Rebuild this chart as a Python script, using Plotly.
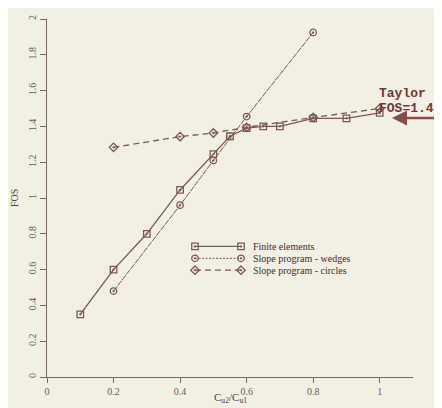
import plotly.graph_objects as go

# ---- data ----
fe_x = [0.1, 0.2, 0.3, 0.4, 0.5, 0.55, 0.6, 0.65, 0.7, 0.8, 0.9, 1.0]
fe_y = [0.35, 0.60, 0.80, 1.045, 1.245, 1.345, 1.39, 1.40, 1.40, 1.445, 1.445, 1.475]

wedge_x = [0.2, 0.4, 0.5, 0.6, 0.8]
wedge_y = [0.48, 0.96, 1.21, 1.455, 1.925]

circ_x = [0.2, 0.4, 0.5, 0.6, 0.8, 1.0]
circ_y = [1.283, 1.343, 1.363, 1.395, 1.45, 1.50]

series_names = ["Finite elements", "Slope program - wedges", "Slope program - circles"]
x_ticks = [0, 0.2, 0.4, 0.6, 0.8, 1]
x_tick_text = ["0", "0.2", "0.4", "0.6", "0.8", "1"]
y_ticks = [0, 0.2, 0.4, 0.6, 0.8, 1, 1.2, 1.4, 1.6, 1.8, 2]
y_tick_text = ["0", "0.2", "0.4", "0.6", "0.8", "1", "1.2", "1.4", "1.6", "1.8", "2"]

BG = "#f1f0e3"
INK = "#7d5752"
AX = "#7a6862"
TXT = "#6a5a55"
SERIF = "Liberation Serif"

styles = [
    dict(symbol="square-open-dot", dash="solid", width=1.3, ldash="solid"),
    dict(symbol="circle-open-dot", dash="6px,1px", width=1.0, ldash="2px,1.5px"),
    dict(symbol="diamond-open-dot", dash="6px,4px", width=1.3, ldash="6px,4px"),
]
data = [(fe_x, fe_y), (wedge_x, wedge_y), (circ_x, circ_y)]

fig = go.Figure()
for (xs, ys), st, nm in zip(data, styles, series_names):
    fig.add_trace(go.Scatter(
        x=xs, y=ys, mode="lines+markers", name=nm, showlegend=False,
        line=dict(color=INK, width=st["width"], dash=st["dash"]),
        marker=dict(symbol=st["symbol"], size=6.5, color=INK, line=dict(width=1.3, color=INK)),
        cliponaxis=False,
    ))

# ---- custom legend in pixel-like overlay coordinates ----
leg_rows = [237, 249, 261]
for yy, st, nm in zip(leg_rows, styles, series_names):
    fig.add_trace(go.Scatter(
        x=[187, 233], y=[yy, yy], xaxis="x2", yaxis="y2", mode="lines+markers",
        showlegend=False, hoverinfo="skip",
        line=dict(color=INK, width=st["width"], dash=st["ldash"]),
        marker=dict(symbol=st["symbol"], size=6.5, color=INK, line=dict(width=1.3, color=INK)),
        cliponaxis=False,
    ))

annotations = []
for yy, nm in zip(leg_rows, series_names):
    annotations.append(dict(
        x=243, y=yy, xref="x2", yref="y2", text=nm, showarrow=False,
        xanchor="left", yanchor="middle",
        font=dict(family=SERIF, size=10, color="#3e2e2a"),
    ))

annotations += [
    dict(x=369, y=82, xref="x2", yref="y2", text="<b>Taylor</b>", showarrow=False,
         xanchor="left", yanchor="middle",
         font=dict(family="Liberation Mono", size=13, color="#6e3a36")),
    dict(x=369, y=97, xref="x2", yref="y2", text="<b>FOS=1.47</b>", showarrow=False,
         xanchor="left", yanchor="middle",
         font=dict(family="Liberation Mono", size=13, color="#6e3a36")),
    dict(x=384, y=107, xref="x2", yref="y2", ax=444, ay=107, axref="x2", ayref="y2",
         text="", showarrow=True, arrowhead=2, arrowsize=1.2, arrowwidth=2.5,
         arrowcolor="#8a4a46"),
    dict(x=0.5, y=-0.06, xref="paper", yref="paper",
         text="C<sub>u2</sub>/C<sub>u1</sub>", showarrow=False,
         xanchor="center", yanchor="middle",
         font=dict(family=SERIF, size=11, color="#4e3e3a")),
    dict(x=-0.09, y=0.5, xref="paper", yref="paper", text="FOS", textangle=-90,
         showarrow=False, xanchor="center", yanchor="middle",
         font=dict(family=SERIF, size=10, color="#4e3e3a")),
]

fig.update_layout(
    width=442, height=408,
    margin=dict(l=39, r=37, t=7, b=39),
    paper_bgcolor=BG, plot_bgcolor=BG,
    showlegend=False,
    xaxis=dict(
        range=[0, 1.1], tickvals=x_ticks, ticktext=x_tick_text,
        showgrid=False, zeroline=False, showline=True, linecolor=AX, linewidth=1.3,
        ticks="outside", ticklen=5, tickcolor=AX, tickwidth=1,
        tickfont=dict(family=SERIF, size=10, color=TXT),
    ),
    yaxis=dict(
        range=[0, 2], tickvals=y_ticks, ticktext=y_tick_text, tickangle=-90,
        showgrid=False, zeroline=False, showline=True, linecolor=AX, linewidth=1.3,
        ticks="outside", ticklen=6, tickcolor=AX, tickwidth=1,
        tickfont=dict(family=SERIF, size=10, color=TXT),
    ),
    xaxis2=dict(range=[39, 405], overlaying="x", visible=False, anchor="y2"),
    yaxis2=dict(range=[369, 7], overlaying="y", visible=False, anchor="x2"),
    annotations=annotations,
)

fig.write_html("out.html")
